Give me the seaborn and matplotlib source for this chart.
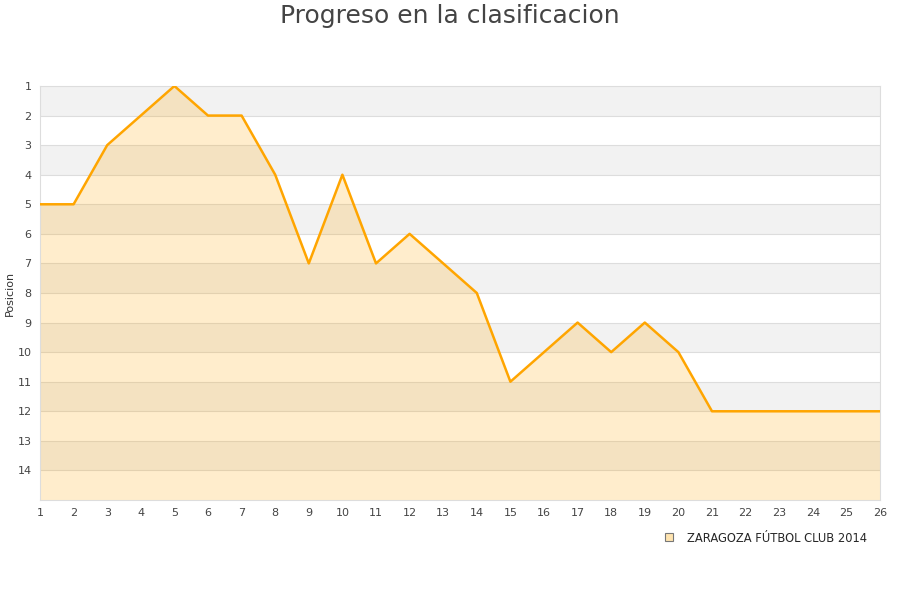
import matplotlib
matplotlib.use("Agg")
import matplotlib.pyplot as plt
import seaborn as sns
import pandas as pd
from matplotlib.lines import Line2D

# Datos
jornadas = list(range(1, 27))
posiciones = [5, 5, 3, 2, 1, 2, 2, 4, 7, 4, 7, 6, 7, 8, 11, 10, 9, 10, 9, 10,
              12, 12, 12, 12, 12, 12]
equipo = "ZARAGOZA FÚTBOL CLUB 2014"
df = pd.DataFrame({"jornada": jornadas, "posicion": posiciones})

sns.set_style("white")
plt.rcParams['font.family'] = ['DejaVu Sans']

fig = plt.figure(figsize=(9, 6), dpi=100)
ax = fig.add_axes([40 / 900, 1 - 500 / 600, 840 / 900, 414 / 600])

# bandas alternas
for y in range(1, 15, 2):
    ax.axhspan(y, y + 1, color="#f2f2f2", zorder=0, lw=0)
for y in range(2, 15):
    ax.axhline(y, color="#dddddd", lw=0.8, zorder=1)

ax.fill_between(df["jornada"], df["posicion"], 15, color="#ffa500", alpha=0.2,
                lw=0, zorder=2)
sns.lineplot(data=df, x="jornada", y="posicion", color="#ffa500", lw=1.8,
             ax=ax, zorder=3)

ax.set_xlim(1, 26)
ax.set_ylim(15, 1)
ax.set_xticks(jornadas)
ax.set_yticks(range(1, 15))
ax.tick_params(axis="both", labelsize=8, colors="#444444", length=0, pad=6)
ax.set_xlabel("")
ax.set_ylabel("Posicion", fontsize=8, color="#333333")
ax.yaxis.set_label_coords(-0.03, 0.5)
for s in ax.spines.values():
    s.set_color("#dddddd")
    s.set_linewidth(0.8)

fig.suptitle("Progreso en la clasificacion", fontsize=18, color="#444444",
             y=0.993)

handle = Line2D([], [], marker="s", linestyle="none", markersize=6,
                markerfacecolor="#ffe4b0", markeredgecolor="#777777",
                markeredgewidth=0.8)
leg = fig.legend([handle], [equipo], loc="center",
                 bbox_to_anchor=(762 / 900, 1 - 538 / 600),
                 frameon=False, fontsize=8.3, handletextpad=0.6)

fig.savefig("out.png", dpi=100)
